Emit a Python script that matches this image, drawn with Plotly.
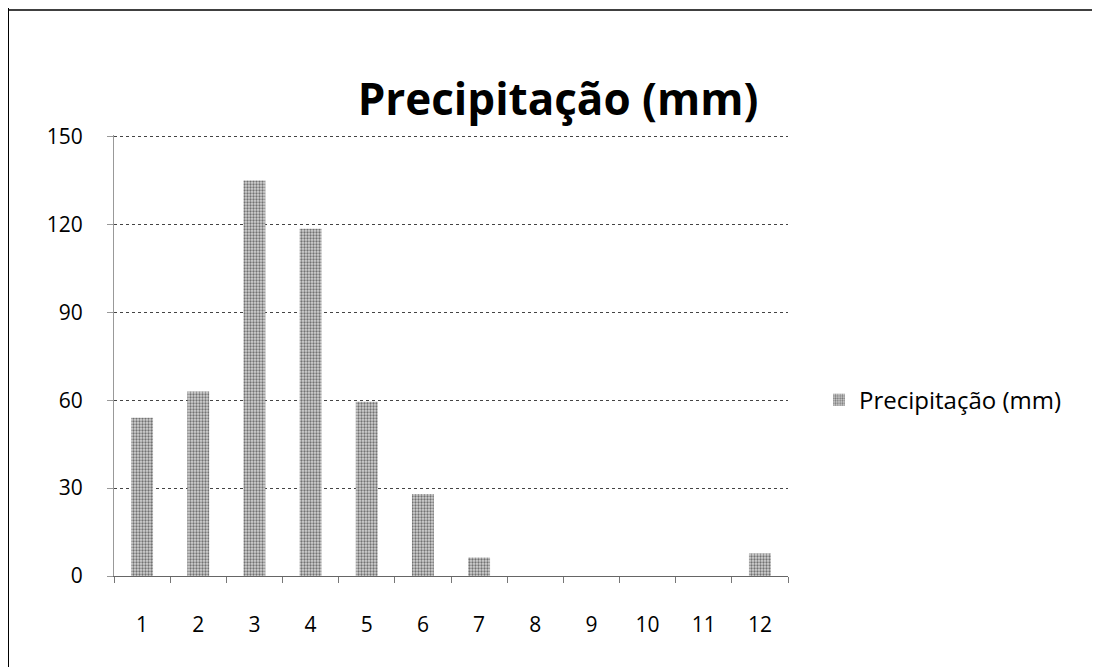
import plotly.graph_objects as go

months = [str(i) for i in range(1, 13)]
precip = [54, 63, 135, 118.5, 59.5, 28, 6.3, 0, 0, 0, 0, 7.7]
y_ticks = [0, 30, 60, 90, 120, 150]
series_name = "Precipitação (mm)"
title_text = "Precipitação (mm)"

L, T, W, H = 106, 127, 674, 441

fig = go.Figure()
fig.add_trace(go.Bar(
    x=months, y=precip, name=series_name,
    marker=dict(color="white", line=dict(width=0),
                pattern=dict(shape=".", fgcolor="#111111", bgcolor="#d2d2d2",
                             size=3, solidity=0.45)),
    showlegend=True,
))

fig.update_layout(
    width=1100, height=667,
    paper_bgcolor="white", plot_bgcolor="white",
    margin=dict(l=L, r=1100 - L - W, t=T, b=667 - T - H),
    bargap=0.61,
    title=dict(text=f"<b>{title_text}</b>", x=0.5, xanchor="center",
               y=1 - 92/667, yanchor="middle",
               font=dict(family="Open Sans", size=44, color="black")),
    font=dict(family="Open Sans", size=21, color="black"),
    xaxis=dict(type="category", showgrid=False, ticks="outside", tickson="boundaries",
               ticklen=6, tickcolor="#777", showline=True, linecolor="#666",
               linewidth=1, ticklabelstandoff=30,
               tickfont=dict(size=21, family="Open Sans")),
    yaxis=dict(range=[0, 150.5], tickvals=y_ticks, showgrid=True, gridcolor="#444",
               griddash="dot", gridwidth=1, zeroline=False, ticks="outside",
               ticklen=6, tickcolor="#999", showline=True, linecolor="#999",
               linewidth=1, ticklabelstandoff=20,
               tickfont=dict(size=21, family="Open Sans")),
    legend=dict(x=1.046, y=0.399, xanchor="left", yanchor="middle",
                font=dict(family="Open Sans", size=24, color="black"),
                bgcolor="rgba(0,0,0,0)"),
)

fig.add_shape(type="line", xref="paper", yref="paper", x0=-L/W, x1=-L/W,
              y0=-(667 - T - H)/H, y1=1 + T/H, line=dict(color="black", width=2))
fig.add_shape(type="line", xref="paper", yref="paper", x0=-L/W, x1=(1110 - L)/W,
              y0=1 + (T - 2)/H, y1=1 + (T - 2)/H, line=dict(color="black", width=1.5))

fig.write_html("out.html")
